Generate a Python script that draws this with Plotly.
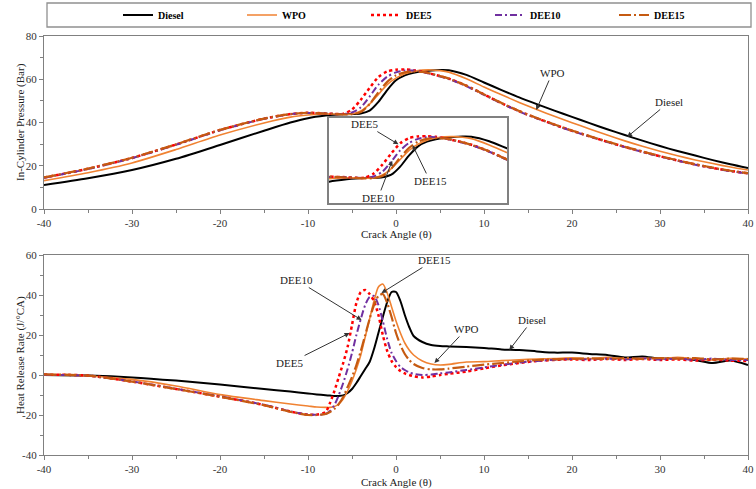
import plotly.graph_objects as go

# ---------------- data ----------------
series_names = ["Diesel", "WPO", "DEE5", "DEE10", "DEE15"]

theta_p = [-40, -35, -30, -25, -20, -15, -12, -10, -8, -7, -6, -5, -4, -3, -2, -1, 0, 1, 2, 3,
           4, 5, 6, 8, 10, 12, 14, 16, 18, 20, 22, 24, 26, 28, 30, 32, 34, 36, 38, 40]
p_diesel = [11.1, 14.2, 18.0, 23.2, 29.6, 36.2, 40.0, 42.0, 43.2, 43.6, 43.8, 43.9, 44.2, 45.5, 49.5, 55.0, 59.5, 61.8, 63.0, 63.7,
            64.1, 64.3, 64.2, 62.0, 58.5, 55.0, 51.6, 48.5, 45.5, 42.6, 39.7, 36.9, 34.2, 31.6, 29.1, 26.8, 24.7, 22.6, 20.7, 19.0]
p_wpo = [13.1, 16.8, 21.3, 27.5, 34.2, 39.8, 42.5, 43.5, 44.0, 43.9, 43.8, 43.9, 45.3, 48.5, 53.0, 57.5, 60.5, 62.5, 63.6, 64.2,
         64.3, 64.0, 63.3, 60.2, 56.4, 52.8, 49.3, 46.0, 42.9, 39.9, 37.0, 34.2, 31.5, 29.0, 26.7, 24.6, 22.7, 21.0, 19.4, 18.0]
p_dee5 = [14.5, 18.6, 23.6, 29.8, 36.5, 41.8, 43.9, 44.5, 44.2, 44.0, 44.0, 46.0, 50.5, 56.0, 61.0, 63.6, 64.4, 64.5, 64.2, 63.5,
          62.5, 61.5, 60.3, 57.0, 53.0, 48.9, 45.2, 42.0, 39.0, 36.2, 33.6, 31.1, 28.7, 26.5, 24.4, 22.4, 20.6, 19.0, 17.6, 16.5]
p_dee10 = [14.4, 18.5, 23.5, 29.7, 36.4, 41.7, 43.8, 44.4, 44.2, 44.0, 43.9, 44.6, 47.0, 52.0, 57.5, 61.2, 63.2, 64.0, 64.0, 63.4,
           62.4, 61.3, 60.1, 56.8, 52.8, 48.8, 45.1, 41.9, 38.9, 36.1, 33.5, 31.0, 28.6, 26.4, 24.3, 22.3, 20.5, 18.9, 17.5, 16.4]
p_dee15 = [14.6, 18.7, 23.7, 29.9, 36.6, 41.8, 43.9, 44.5, 44.1, 43.9, 43.7, 43.8, 44.8, 48.5, 54.0, 58.8, 61.8, 63.2, 63.6, 63.4,
           62.6, 61.5, 60.3, 57.0, 53.0, 49.0, 45.3, 42.1, 39.1, 36.3, 33.7, 31.2, 28.8, 26.6, 24.5, 22.5, 20.7, 19.1, 17.7, 16.6]

theta_h = [-40, -35, -30, -25, -20, -15, -12, -10, -9, -8, -7.5, -7, -6.5, -6, -5.5, -5, -4.5, -4, -3.5, -3,
           -2.5, -2, -1.5, -1, -0.5, 0, 0.5, 1, 1.5, 2, 3, 4, 5, 6, 8, 10, 12, 14, 16, 18,
           20, 22, 24, 26, 28, 30, 32, 34, 36, 38, 40]
h_diesel = [0, -0.3, -1.2, -2.8, -4.8, -7.0, -8.3, -9.2, -9.7, -10.1, -10.3, -10.5, -10.5, -10.2, -9.0, -7.0, -4.0, -0.5, 3.0, 6.5,
            13.0, 21.0, 29.0, 36.5, 41.5, 41.5, 37.0, 30.0, 24.0, 19.5, 16.5, 15.0, 14.5, 14.3, 14.0, 13.5, 12.8, 12.5, 11.8, 11.2,
            11.2, 10.5, 10.0, 8.8, 9.3, 8.2, 8.5, 7.5, 6.0, 7.2, 5.0]
h_wpo = [0, -0.5, -2.2, -5.5, -9.8, -12.8, -14.5, -15.5, -16.0, -16.2, -16.2, -15.8, -14.5, -12.0, -8.0, -3.0, 3.0, 10.0, 19.0, 28.0,
         37.0, 44.0, 45.5, 41.0, 34.0, 27.0, 21.0, 16.0, 12.5, 10.0, 7.0, 5.5, 5.0, 5.3, 6.5, 6.7, 7.2, 7.6, 8.0, 8.2,
         8.6, 8.2, 8.8, 8.0, 8.5, 8.2, 8.8, 8.0, 7.5, 8.3, 8.0]
h_dee5 = [0.2, -0.3, -3.3, -7.0, -10.8, -15.0, -18.3, -19.8, -19.8, -18.5, -14.0, -8.0, -1.0, 6.0, 14.0, 25.0, 36.0, 41.5, 42.5, 40.5,
          37.0, 30.0, 20.0, 12.0, 7.0, 4.0, 2.0, 0.8, 0.0, -0.6, -1.2, -0.8, 0.0, 0.6, 1.7, 3.3, 4.8, 6.0, 7.0, 7.5,
          7.8, 7.5, 8.0, 7.5, 8.0, 7.5, 7.8, 7.2, 7.8, 7.2, 7.0]
h_dee10 = [0.1, -0.4, -3.2, -6.9, -10.7, -14.9, -18.2, -19.8, -19.9, -19.5, -18.0, -15.0, -10.0, -4.0, 3.0, 11.0, 20.0, 28.0, 35.0, 39.0,
           39.5, 35.0, 27.0, 18.0, 11.0, 7.0, 4.0, 2.5, 1.3, 0.6, 0.0, 0.2, 0.8, 1.3, 2.5, 3.8, 5.0, 6.2, 7.0, 7.6,
           8.0, 7.8, 8.2, 7.8, 8.3, 7.8, 8.2, 7.6, 8.2, 7.5, 7.5]
h_dee15 = [0.3, -0.3, -3.3, -7.0, -10.9, -15.1, -18.4, -20.0, -20.0, -19.5, -18.5, -17.0, -14.5, -11.0, -6.0, -1.0, 5.0, 12.0, 20.0, 28.0,
           35.0, 39.5, 40.5, 36.0, 29.0, 21.0, 15.0, 10.5, 7.5, 5.5, 3.5, 2.8, 2.8, 3.2, 4.2, 5.2, 6.0, 6.8, 7.5, 7.8,
           8.0, 8.3, 8.0, 8.5, 8.0, 8.5, 8.2, 8.5, 7.8, 8.2, 8.0]

x_tickvals = [-40, -30, -20, -10, 0, 10, 20, 30, 40]
x_ticktext = ["-40", "-30", "-20", "-10", "0", "10", "20", "30", "40"]
yp_tickvals = [0, 20, 40, 60, 80]
yp_ticktext = ["0", "20", "40", "60", "80"]
yh_tickvals = [-40, -20, 0, 20, 40, 60]
yh_ticktext = ["-40", "-20", "0", "20", "40", "60"]

# ---------------- styles ----------------
styles = {
    "Diesel": dict(color="#000000", width=2.0, dash="solid"),
    "WPO": dict(color="#F08232", width=1.6, dash="solid"),
    "DEE5": dict(color="#FF0000", width=2.5, dash="dot"),
    "DEE10": dict(color="#7030A0", width=2.0, dash="7px,3px,2px,3px"),
    "DEE15": dict(color="#C55A11", width=2.2, dash="12px,3px,2px,3px"),
}
p_data = {"Diesel": p_diesel, "WPO": p_wpo, "DEE5": p_dee5, "DEE10": p_dee10, "DEE15": p_dee15}
h_data = {"Diesel": h_diesel, "WPO": h_wpo, "DEE5": h_dee5, "DEE10": h_dee10, "DEE15": h_dee15}

FONT = "Liberation Serif"
W, H = 756, 489

fig = go.Figure()
for name in series_names:
    st = styles[name]
    line = dict(color=st["color"], width=st["width"], dash=st["dash"], shape="spline", smoothing=0.7)
    fig.add_trace(go.Scatter(x=theta_p, y=p_data[name], name=name, mode="lines", line=line,
                             xaxis="x", yaxis="y", legendgroup=name))
    fig.add_trace(go.Scatter(x=theta_h, y=h_data[name], name=name, mode="lines", line=line,
                             xaxis="x2", yaxis="y2", legendgroup=name, showlegend=False))
    fig.add_trace(go.Scatter(x=theta_p, y=p_data[name], name=name, mode="lines", line=line,
                             xaxis="x3", yaxis="y3", legendgroup=name, showlegend=False))

def px_x(px):
    return px / W

def px_y(py):
    return 1 - py / H

xdom = [px_x(44), px_x(748)]
axis_common = dict(showline=True, linecolor="#808080", linewidth=1.3, mirror=True,
                   ticks="outside", ticklen=4, tickcolor="#808080", tickwidth=1,
                   showgrid=False, zeroline=False,
                   tickfont=dict(family=FONT, size=11, color="#333333"))

fig.update_layout(
    width=W, height=H,
    margin=dict(l=0, r=0, t=0, b=0, autoexpand=False),
    paper_bgcolor="white", plot_bgcolor="white",
    xaxis=dict(domain=xdom, anchor="y", range=[-40, 40], tickvals=x_tickvals, ticktext=x_ticktext,
               minor=dict(ticks="outside", dtick=5, ticklen=3, tickcolor="#808080"), **axis_common),
    yaxis=dict(domain=[px_y(209), px_y(36)], anchor="x", range=[0, 80], tickvals=yp_tickvals, ticktext=yp_ticktext,
               minor=dict(ticks="outside", dtick=10, ticklen=3, tickcolor="#808080"), **axis_common),
    xaxis2=dict(domain=xdom, anchor="y2", range=[-40, 40], tickvals=x_tickvals, ticktext=x_ticktext,
                minor=dict(ticks="outside", dtick=5, ticklen=3, tickcolor="#808080"), **axis_common),
    yaxis2=dict(domain=[px_y(455), px_y(255)], anchor="x2", range=[-40, 60], tickvals=yh_tickvals, ticktext=yh_ticktext,
                minor=dict(ticks="outside", dtick=10, ticklen=3, tickcolor="#808080"), **axis_common),
    xaxis3=dict(domain=[px_x(329), px_x(507)], anchor="y3", range=[-10, 10], showticklabels=False, ticks="",
                showline=True, mirror=True, linecolor="#808080", linewidth=1.5, showgrid=False, zeroline=False),
    yaxis3=dict(domain=[px_y(203), px_y(118)], anchor="x3", range=[31.5, 73.5], showticklabels=False, ticks="",
                showline=True, mirror=True, linecolor="#808080", linewidth=1.5, showgrid=False, zeroline=False),
    legend=dict(orientation="h", x=px_x(118), xanchor="left", y=px_y(15), yanchor="middle",
                font=dict(family=FONT, size=10, color="#000000", weight="bold"),
                entrywidth=79, entrywidthmode="pixels", itemwidth=30,
                bgcolor="rgba(0,0,0,0)", borderwidth=0),
    shapes=[dict(type="rect", xref="paper", yref="paper", x0=px_x(47), x1=px_x(751), y0=px_y(27), y1=px_y(3),
                 line=dict(color="#909090", width=1.3), fillcolor="rgba(0,0,0,0)")],
)

annots = []
def label(text, xr, yr, ax, ay, hx, hy):
    annots.append(dict(text=text, xref=xr, yref=yr, axref=xr, ayref=yr, x=hx, y=hy, ax=ax, ay=ay,
                       showarrow=True, arrowhead=2, arrowsize=1, arrowwidth=1, arrowcolor="#333333",
                       font=dict(family=FONT, size=11, color="#222222")))

# top panel
label("WPO", "x", "y", 17.76, 62.9, 15.94, 45.8)
label("Diesel", "x", "y", 31.04, 49.5, 26.27, 33.3)
# inset
label("DEE5", "x3", "y3", -5.96, 70.5, -2.2, 60.5)
label("DEE15", "x3", "y3", 1.35, 42.4, -0.6, 60.0)
label("DEE10", "x3", "y3", -4.49, 34.0, -2.9, 52.4)
# bottom panel
label("DEE15", "x2", "y2", 4.37, 57.5, -1.65, 41.0)
label("DEE10", "x2", "y2", -11.29, 47.5, -3.91, 27.5)
label("DEE5", "x2", "y2", -12.09, 6.0, -5.28, 21.0)
label("WPO", "x2", "y2", 8.0, 23.0, 4.37, 6.0)
label("Diesel", "x2", "y2", 15.49, 27.5, 12.88, 12.5)

# axis titles
title_font = dict(family=FONT, size=11, color="#222222")
common_t = dict(xref="paper", yref="paper", showarrow=False, font=title_font,
                xanchor="center", yanchor="middle")
annots += [
    dict(text="In-Cylinder Pressure (Bar)", x=px_x(20), y=px_y(122), textangle=-90, **common_t),
    dict(text="Heat Release Rate (J/°CA)", x=px_x(20), y=px_y(355), textangle=-90, **common_t),
    dict(text="Crack Angle (θ)", x=px_x(396), y=px_y(234), **common_t),
    dict(text="Crack Angle (θ)", x=px_x(396), y=px_y(482), **common_t),
]
fig.update_layout(annotations=annots)

fig.write_html("out.html", config={"displayModeBar": False},
               post_script="document.body.style.margin='0px';")
